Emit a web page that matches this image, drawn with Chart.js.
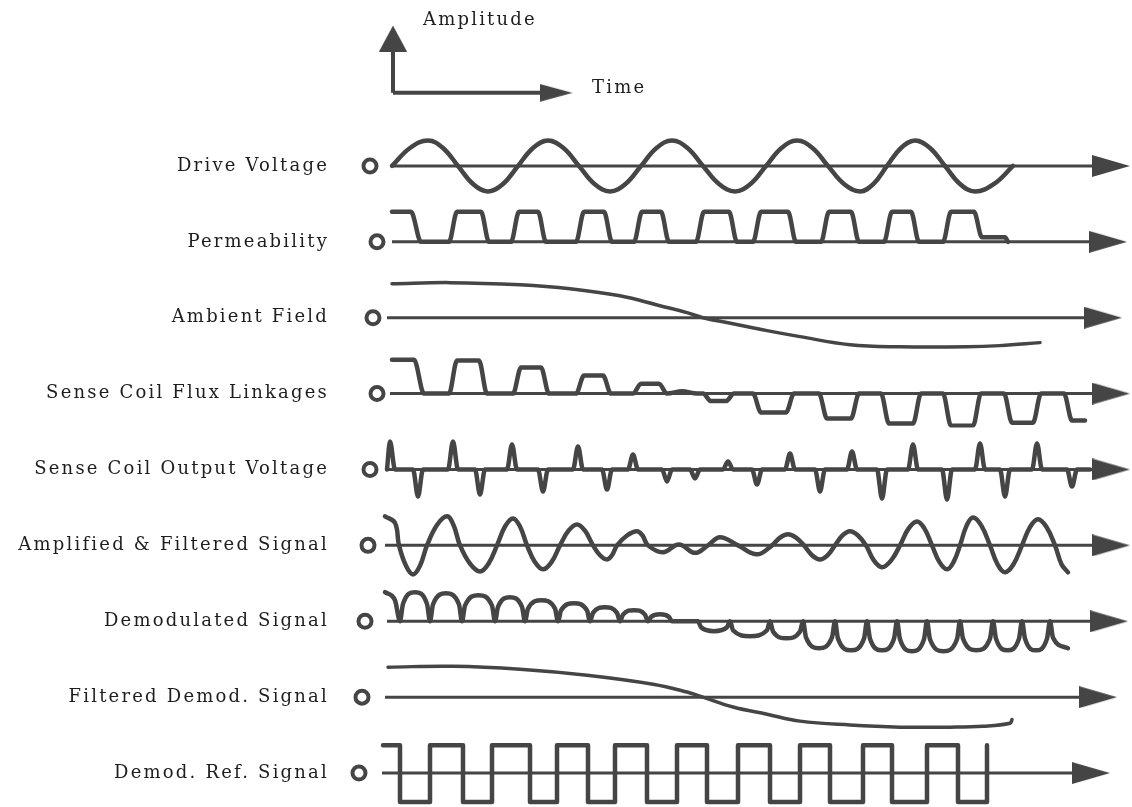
<!DOCTYPE html>
<html>
<head>
<meta charset="utf-8">
<script src="https://cdn.jsdelivr.net/npm/chart.js@4.4.1/dist/chart.umd.min.js"></script>
<style>
  html, body { margin: 0; padding: 0; background: #fff; }
  canvas { display: block; }
</style>
</head>
<body>
<canvas id="timingChart" width="1132" height="807"></canvas>
<script>
// magnetometer signal chain, one waveform per row (top to bottom)
const rowLabels = ['Drive Voltage', 'Permeability', 'Ambient Field', 'Sense Coil Flux Linkages',
  'Sense Coil Output Voltage', 'Amplified & Filtered Signal', 'Demodulated Signal',
  'Filtered Demod. Signal', 'Demod. Ref. Signal'];

// [time, amplitude]; time in arbitrary units, amplitude relative
const driveVoltage = [[0,0],[1.8,0.6],[3.6,0.85],[5.1,0.6],[6.6,0],[8.1,-0.6],[9.6,-0.85],[11.1,-0.6],
  [12.6,0],[14.1,0.6],[15.6,0.85],[17.15,0.6],[18.7,0],[20.25,-0.6],[21.8,-0.85],[23.35,-0.6],[24.9,0],
  [26.45,0.6],[28,0.85],[29.55,0.6],[31.1,0],[32.7,-0.6],[34.3,-0.85],[35.85,-0.6],[37.4,0],[38.95,0.6],
  [40.5,0.85],[42.05,0.6],[43.6,0],[45.2,-0.6],[46.8,-0.85],[48.15,-0.6],[49.5,0],[50.9,0.6],[52.3,0.85],
  [53.8,0.6],[55.3,0],[56.8,-0.6],[58.3,-0.85],[60.2,-0.6],[62.1,0]];

const permeability = [[0,1],[1.9,1],[2.9,0],[5.7,0],[6.5,1],[8.9,1],[9.7,0],[11.9,0],[12.7,1],[14.6,1],
  [15.4,0],[18.4,0],[19.2,1],[21.2,1],[22,0],[24.2,0],[25,1],[26.9,1],[27.7,0],[30.4,0],[31.2,1],
  [33.7,1],[34.5,0],[36.1,0],[36.9,1],[39.6,1],[40.4,0],[42.9,0],[43.7,1],[45.9,1],[46.7,0],[49.2,0],
  [50,1],[51.9,1],[52.7,0],[55.1,0],[55.9,1],[58.2,1],[59,0.15],[61.3,0.15],[61.6,0]];

const ambientField = [[0,1.13],[5.8,1.17],[12.8,1.1],[17.8,0.97],[22.8,0.73],[26.8,0.4],[29.5,0.17],
  [31.1,0],[34.1,-0.2],[37.5,-0.43],[40.8,-0.63],[45.8,-0.9],[50.8,-0.97],[57.5,-0.97],[60.8,-0.93],
  [64.8,-0.83]];

const fluxLinkages = [[0,1.13],[2.2,1.13],[3.2,0],[5.7,0],[6.5,1.1],[8.7,1.1],[9.5,0],[12.1,0],[12.9,0.87],
  [14.9,0.87],[15.7,0],[18.4,0],[19.2,0.6],[21.1,0.6],[21.9,0],[24.1,0],[24.9,0.33],[26.7,0.33],[27.5,0],
  [29,0.08],[30.5,0],[31.1,0],[31.9,-0.25],[33.4,-0.25],[34.2,0],[36.1,0],[36.9,-0.63],[39.4,-0.63],
  [40.2,0],[42.7,0],[43.5,-0.83],[45.9,-0.83],[46.7,0],[48.9,0],[49.7,-1],[52.1,-1],[52.9,0],[55.1,0],
  [55.9,-1.07],[58.1,-1.07],[58.9,0],[61.2,0],[62,-0.97],[64.1,-0.97],[64.9,0],[67.2,0],[68,-0.9],
  [69.3,-0.9]];

const senseOutput = [[-0.5,0],[-0.2,0.93],[0.3,0],[2.1,0],[2.6,-0.9],[3.1,0],[5.6,0],[6.1,0.93],[6.6,0],
  [8.3,0],[8.8,-0.83],[9.3,0],[11.5,0],[12,0.83],[12.5,0],[14.6,0],[15.1,-0.73],[15.6,0],[18.1,0],
  [18.6,0.77],[19.1,0],[21,0],[21.5,-0.67],[22,0],[23.6,0],[24.1,0.5],[24.6,0],[27,0],[27.5,-0.4],
  [28,0],[29.8,0],[30.3,-0.3],[30.8,0],[33.1,0],[33.6,0.27],[34.1,0],[36,0],[36.5,-0.5],[37,0],
  [39.3,0],[39.8,0.53],[40.3,0],[42.3,0],[42.8,-0.73],[43.3,0],[45.5,0],[46,0.6],[46.5,0],[48.5,0],
  [49,-0.97],[49.5,0],[51.6,0],[52.1,0.83],[52.6,0],[55,0],[55.5,-1],[56,0],[58.3,0],[58.8,0.87],
  [59.3,0],[60.8,0],[61.3,-0.9],[61.8,0],[64,0],[64.5,0.87],[65,0],[67.5,0],[68,-0.57],[68.5,0],
  [69.8,0]];

const amplified = [[-0.7,0.97],[0.3,0.75],[0.7,0],[1.4,-0.68],[2.1,-0.97],[2.8,-0.68],[3.5,0],[4.5,0.68],
  [5.5,0.97],[6.15,0.68],[6.8,0],[7.8,-0.61],[8.8,-0.87],[9.65,-0.61],[10.5,0],[11.3,0.63],[12.1,0.9],
  [12.8,0.63],[13.5,0],[14.3,-0.56],[15.1,-0.8],[15.95,-0.56],[16.8,0],[17.65,0.49],[18.5,0.7],
  [19.3,0.49],[20.1,0],[20.8,-0.33],[21.5,-0.47],[22,-0.33],[22.5,0],[23.5,0.33],[24.5,0.47],[25.05,0.33],
  [25.6,0],[27.1,-0.23],[28.7,0.03],[30.3,-0.25],[31.6,0],[32.8,0.27],[34.6,0],[36.5,-0.3],[38,0],
  [38.8,0.26],[39.6,0.37],[40.4,0.26],[41.2,0],[42,-0.33],[42.8,-0.47],[43.55,-0.33],[44.3,0],[45.05,0.33],
  [45.8,0.47],[46.6,0.33],[47.4,0],[48.2,-0.51],[49,-0.73],[49.9,-0.51],[50.8,0],[51.65,0.56],[52.5,0.8],
  [53.25,0.56],[54,0],[54.75,-0.56],[55.5,-0.8],[56.15,-0.56],[56.8,0],[57.45,0.65],[58.1,0.93],
  [58.95,0.65],[59.8,0],[60.55,-0.63],[61.3,-0.9],[62.15,-0.63],[63,0],[63.8,0.61],[64.6,0.87],
  [65.45,0.61],[66.3,0],[66.95,-0.63],[67.6,-0.9]];

const demodulated = [[-0.7,0.97],[0.3,0.7],[0.8,0],[1.1,0.58],[2.3,0.97],[3.5,0.58],[3.8,0],[4.1,0.56],
  [5.4,0.93],[6.7,0.56],[7,0],[7.3,0.52],[8.65,0.87],[10,0.52],[10.3,0],[10.6,0.48],[11.8,0.8],[13,0.48],
  [13.3,0],[13.6,0.42],[14.95,0.7],[16.3,0.42],[16.6,0],[16.9,0.36],[18.2,0.6],[19.5,0.36],[19.8,0],
  [20.1,0.28],[21.3,0.47],[22.5,0.28],[22.8,0],[23.1,0.22],[24.2,0.37],[25.3,0.22],[25.6,0],[25.9,0.14],
  [26.8,0.23],[27.7,0.14],[28,0],[30.6,0],[30.9,-0.2],[32.2,-0.33],[33.5,-0.2],[33.8,0],[34.1,-0.3],
  [35.8,-0.5],[37.5,-0.3],[37.8,0],[38.1,-0.34],[39.45,-0.57],[40.8,-0.34],[41.1,0],[41.4,-0.54],
  [42.7,-0.9],[44,-0.54],[44.3,0],[44.6,-0.58],[45.9,-0.97],[47.2,-0.58],[47.5,0],[47.8,-0.58],[49,-0.97],
  [50.2,-0.58],[50.5,0],[50.8,-0.6],[52,-1],[53.2,-0.6],[53.5,0],[53.8,-0.6],[55.15,-1],[56.5,-0.6],
  [56.8,0],[57.1,-0.58],[58.45,-0.97],[59.8,-0.58],[60.1,0],[60.4,-0.58],[61.55,-0.97],[62.7,-0.58],
  [63,0],[63.3,-0.58],[64.4,-0.97],[65.5,-0.58],[65.8,0],[66.1,-0.55],[67.6,-0.9]];

const filteredDemod = [[-0.4,1],[6.1,1.03],[12.8,0.93],[19.5,0.73],[26.1,0.43],[29.5,0.17],[31.1,0],
  [34.1,-0.33],[37.5,-0.57],[40.8,-0.8],[45.8,-0.93],[50.8,-1],[55.8,-1],[59.1,-0.97],[61.8,-0.87],
  [62,-0.75]];

// square reference: [edge time, level after the edge]
const demodRef = [[-0.9,0.93],[0.8,-0.97],[3.8,0.93],[7.1,-0.97],[10,0.93],[13.8,-0.97],[16.5,0.93],
  [19.6,-0.97],[22.3,0.93],[25.5,-0.97],[28.5,0.93],[31.5,-0.97],[34.6,0.93],[37.8,-0.97],[40.8,0.93],
  [43.8,-0.97],[47.1,0.93],[50,-0.97],[53.5,0.93],[56.6,-0.97],[59.5,0.93]];

const rowSeries = [driveVoltage, permeability, ambientField, fluxLinkages, senseOutput,
  amplified, demodulated, filteredDemod, demodRef];

// time axis of each row: start, arrow tip, and the little start circle
const axisStart = [0, 0, -0.5, -0.2, -0.5, -0.7, -0.5, -0.7, -1];
const axisTip = [73.8, 73.5, 73, 73.8, 73.8, 73.8, 73.6, 72.5, 71.8];
const circleAt = [-2.2, -1.5, -1.9, -1.5, -2.2, -2.4, -2.7, -3, -3.3];

const ink = '#454545';
const textInk = '#1e1e1e';
const serif = '"DejaVu Serif", "Liberation Serif", serif';
const toXY = pts => pts.map(p => ({x: p[0], y: p[1]}));

// how each row's curve is drawn: smooth waves, rounded pulses, or a stepped square wave
const curveMode = ['wave', 'pulse', 'wave', 'pulse', 'pulse', 'wave', 'pulse', 'wave', 'step'];

function arrowHead(len, wid) {
    const c = document.createElement('canvas');
    c.width = len;
    c.height = wid;
    const g = c.getContext('2d');
    g.fillStyle = ink;
    g.beginPath();
    g.moveTo(0, 0);
    g.lineTo(len, wid / 2);
    g.lineTo(0, wid);
    g.closePath();
    g.fill();
    return c;
}
const rowArrow = arrowHead(38, 22);
const keyArrowH = arrowHead(33, 18);
const keyArrowV = arrowHead(26, 28);

// stacked y axes: keep the label column 345px wide and drop the label padding
const fitColumn = s => { s.width = 345; s.paddingTop = 0; s.paddingBottom = 0; };

const datasets = [];
const scales = {
    x: { type: 'linear', min: -4.7, max: 74, display: false },
    // amplitude / time key above the rows
    yKey: {
        type: 'linear', position: 'left', stack: 'rows', stackWeight: 1.635, weight: 20,
        min: 0, max: 4.136,
        grid: { display: false }, border: { display: false }, ticks: { display: false },
        afterFit: fitColumn
    }
};

rowLabels.forEach((label, i) => {
    const yId = 'y' + i;
    scales[yId] = {
        type: 'linear', position: 'left', stack: 'rows', stackWeight: 1, weight: 10 - i,
        min: -1.133, max: 1.397,
        grid: { display: false, drawTicks: false },
        border: { display: false },
        afterBuildTicks: s => { s.ticks = [{ value: 0 }]; },
        ticks: { callback: () => label, color: textInk, padding: 16, font: { family: serif, size: 18 } },
        afterFit: fitColumn
    };
    const mode = curveMode[i];
    const thin = (i === 2 || i === 7);
    datasets.push({
        data: toXY(rowSeries[i]), yAxisID: yId, borderColor: ink,
        borderWidth: thin ? 3.5 : 4.5, pointRadius: 0,
        cubicInterpolationMode: mode === 'pulse' ? 'monotone' : 'default',
        tension: mode === 'wave' ? 0.4 : 0,
        stepped: mode === 'step', borderJoinStyle: 'round', borderCapStyle: 'round'
    });
    datasets.push({
        data: [{ x: axisStart[i], y: 0 }, { x: axisTip[i] - 1.9, y: 0 }], yAxisID: yId,
        borderColor: ink, borderWidth: 3, pointRadius: [0, 5],
        pointStyle: rowArrow, tension: 0
    });
    datasets.push({
        data: [{ x: circleAt[i], y: 0 }], yAxisID: yId, showLine: false,
        pointRadius: 6.5, pointBorderWidth: 4, pointBorderColor: ink, pointBackgroundColor: '#fff'
    });
});

// key arrows
datasets.push({
    data: [{ x: 0.1, y: 1.04 }, { x: 0.1, y: 2.85 }], yAxisID: 'yKey',
    borderColor: ink, borderWidth: 4, pointRadius: [0, 5], pointStyle: keyArrowV, pointRotation: -90
});
datasets.push({
    data: [{ x: 0.1, y: 1.04 }, { x: 16.4, y: 1.04 }], yAxisID: 'yKey',
    borderColor: ink, borderWidth: 4, pointRadius: [0, 5], pointStyle: keyArrowH
});

const keyTexts = [
    { text: 'Amplitude', t: 3.1, a: 3.47 },
    { text: 'Time', t: 20, a: 1.2 }
];

const letterSpacing = {
    id: 'letterSpacing',
    beforeDraw(chart) { chart.ctx.letterSpacing = '2.2px'; }
};
const keyText = {
    id: 'keyText',
    afterDatasetsDraw(chart) {
        const { ctx, scales: { x, yKey } } = chart;
        ctx.save();
        ctx.font = '18px ' + serif;
        ctx.letterSpacing = '2.2px';
        ctx.fillStyle = textInk;
        ctx.textBaseline = 'middle';
        keyTexts.forEach(k => ctx.fillText(k.text, x.getPixelForValue(k.t), yKey.getPixelForValue(k.a)));
        ctx.restore();
    }
};

new Chart(document.getElementById('timingChart').getContext('2d'), {
    type: 'line',
    data: { datasets: datasets },
    options: {
        responsive: false,
        animation: false,
        devicePixelRatio: 1,
        layout: { padding: 0, autoPadding: false },
        scales: scales,
        plugins: { legend: { display: false }, tooltip: { enabled: false } }
    },
    plugins: [letterSpacing, keyText]
});
</script>
</body>
</html>
